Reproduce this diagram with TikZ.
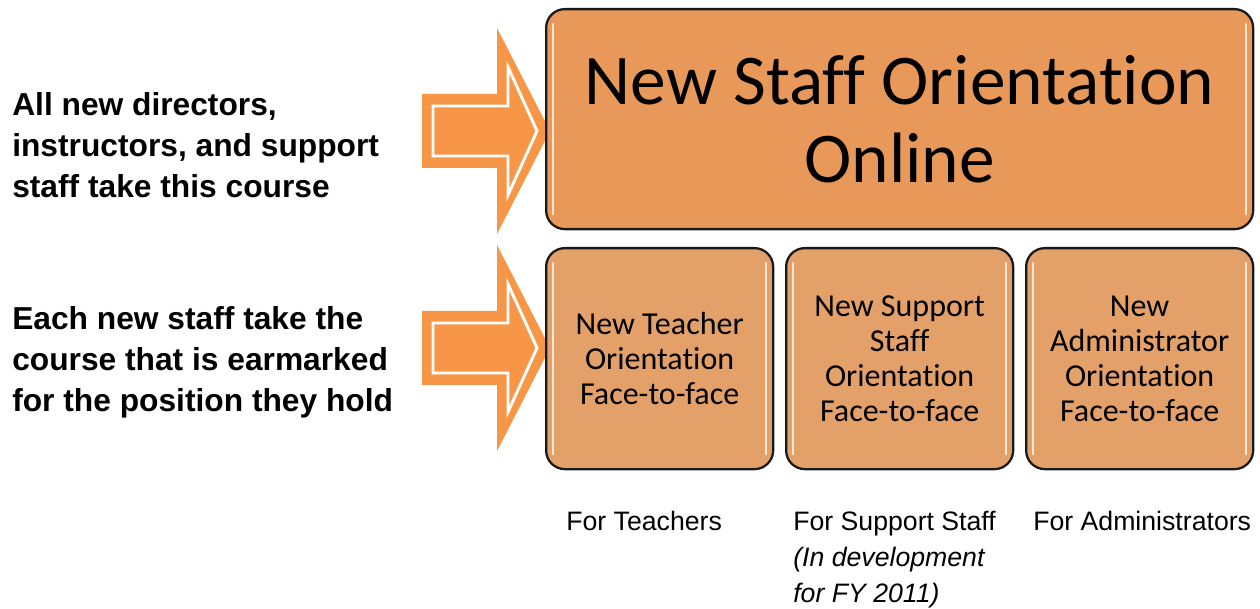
\documentclass[tikz,border=0pt]{standalone}
\usepackage{fontspec}
\setmainfont{Liberation Sans}
\newfontfamily\calfont[Ligatures=CommonOff]{Carlito}
\definecolor{arrowor}{HTML}{F79646}
\definecolor{topor}{HTML}{E8995A}
\definecolor{botor}{HTML}{E3A169}
\begin{document}
\begin{tikzpicture}[x=0.75pt,y=-0.75pt,
  box/.style={draw=black!90, line width=1.7pt, rounded corners=14pt, anchor=north west, inner sep=0pt, align=center, text=black},
  topbox/.style={box, fill=topor, minimum width=530.25pt, minimum height=165pt, font=\calfont\fontsize{53.5}{58.5}\selectfont},
  subbox/.style={box, fill=botor, minimum width=170.25pt, minimum height=165.75pt, font=\calfont\fontsize{24}{26.25}\selectfont},
  lefttext/.style={anchor=west, align=left, inner sep=0pt, font=\bfseries\fontsize{23.8}{30.75}\selectfont},
  label/.style={anchor=north west, align=left, inner sep=0pt, font=\fontsize{20}{27}\selectfont},
  shine/.style={white, line width=1.6pt, opacity=0.75, line cap=round},
  bigarrow/.style={fill=arrowor},
  arrowline/.style={draw=white, line width=2.2pt, line join=miter}
]
\useasboundingbox (0,0) rectangle (1260,609);

% arrows
\foreach \dy in {0,217}{
  \begin{scope}[yshift=-0.75*\dy pt]
    \fill[bigarrow] (422,94) -- (497,94) -- (497,28) -- (550,131) -- (497,234) -- (497,168) -- (422,168) -- cycle;
    \draw[arrowline] (433,106) -- (508,106) -- (508,67) -- (537,131) -- (508,195) -- (508,156) -- (433,156) -- cycle;
  \end{scope}
}

% boxes
\node[topbox] (top) at (545,8) {New Staff Orientation\\Online};
\node[subbox] (teach) at (545,247) {New Teacher\\Orientation\\Face-to-face};
\node[subbox] (supp) at (785,247) {New Support\\Staff\\Orientation\\Face-to-face};
\node[subbox] (admin) at (1025,247) {New\\Administrator\\Orientation\\Face-to-face};

% highlights
\foreach \n in {top,teach,supp,admin}{
  \draw[shine] ([xshift=6pt,yshift=-12pt]\n.north west) -- ([xshift=6pt,yshift=12pt]\n.south west);
  \draw[shine] ([xshift=-6pt,yshift=-12pt]\n.north east) -- ([xshift=-6pt,yshift=12pt]\n.south east);
}

% left texts
\node[lefttext] (t1) at (12,145) {All new directors,\\instructors, and support\\staff take this course};
\node[lefttext] (t2) at (12,362) {Each new staff take the\\course that is earmarked\\for the position they hold};

% labels
\node[label] (l1) at (566,511) {For Teachers};
\node[label] (l2) at (793,511) {For Support Staff\\\textit{(In development}\\\textit{for FY 2011)}};
\node[label] (l3) at (1033,511) {For Administrators};
\end{tikzpicture}
\end{document}
